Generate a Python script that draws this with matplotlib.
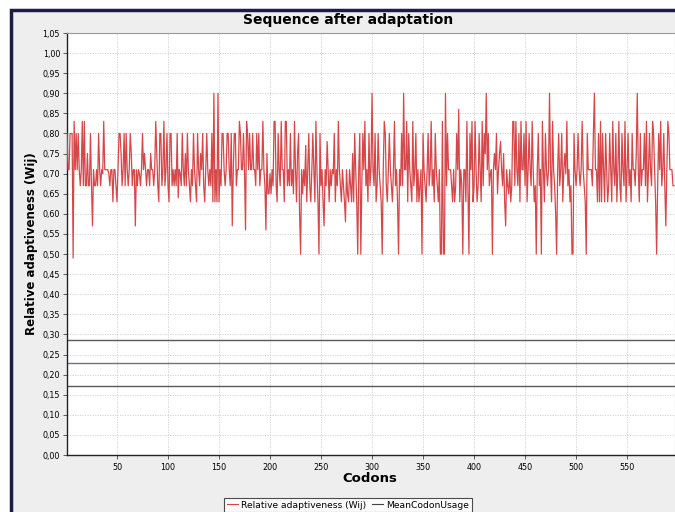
import numpy as np
import matplotlib
matplotlib.use("Agg")
import matplotlib.pyplot as plt
from matplotlib.patches import Rectangle
from matplotlib.lines import Line2D
from matplotlib.ticker import FuncFormatter, MultipleLocator

title = "Sequence after adaptation"
x_label = "Codons"
y_label = "Relative adaptiveness (Wij)"
series_names = ["Relative adaptiveness (Wij)", "MeanCodonUsage"]

wij = [
    0.80, 0.71, 0.71, 0.80, 0.80, 0.80, 0.49, 0.83, 0.71, 0.80, 0.71, 0.80, 0.71, 0.67, 0.71, 0.83, 0.67, 0.83, 0.67, 0.67,
    0.75, 0.67, 0.67, 0.80, 0.67, 0.57, 0.71, 0.67, 0.67, 0.71, 0.67, 0.80, 0.71, 0.67, 0.71, 0.70, 0.83, 0.71, 0.71, 0.71,
    0.71, 0.70, 0.67, 0.71, 0.71, 0.63, 0.71, 0.71, 0.67, 0.63, 0.71, 0.80, 0.80, 0.75, 0.67, 0.71, 0.80, 0.67, 0.80, 0.71,
    0.67, 0.71, 0.80, 0.75, 0.67, 0.71, 0.71, 0.57, 0.71, 0.67, 0.71, 0.70, 0.67, 0.71, 0.80, 0.71, 0.75, 0.71, 0.67, 0.71,
    0.71, 0.67, 0.75, 0.71, 0.71, 0.67, 0.71, 0.83, 0.75, 0.67, 0.63, 0.80, 0.80, 0.67, 0.71, 0.83, 0.67, 0.71, 0.80, 0.67,
    0.63, 0.80, 0.80, 0.67, 0.71, 0.67, 0.71, 0.67, 0.80, 0.64, 0.71, 0.70, 0.67, 0.80, 0.71, 0.67, 0.75, 0.67, 0.80, 0.71,
    0.67, 0.63, 0.71, 0.67, 0.80, 0.71, 0.67, 0.63, 0.80, 0.71, 0.67, 0.75, 0.71, 0.80, 0.67, 0.63, 0.71, 0.80, 0.71, 0.67,
    0.71, 0.67, 0.80, 0.63, 0.90, 0.63, 0.71, 0.63, 0.90, 0.63, 0.71, 0.67, 0.80, 0.80, 0.71, 0.67, 0.71, 0.80, 0.80, 0.71,
    0.67, 0.80, 0.57, 0.71, 0.80, 0.80, 0.67, 0.71, 0.71, 0.83, 0.80, 0.71, 0.71, 0.80, 0.71, 0.56, 0.83, 0.80, 0.71, 0.80,
    0.71, 0.71, 0.80, 0.71, 0.71, 0.67, 0.80, 0.71, 0.80, 0.67, 0.71, 0.71, 0.83, 0.71, 0.67, 0.56, 0.75, 0.65, 0.65, 0.70,
    0.65, 0.71, 0.67, 0.83, 0.83, 0.67, 0.63, 0.80, 0.71, 0.67, 0.83, 0.71, 0.71, 0.63, 0.83, 0.83, 0.67, 0.71, 0.67, 0.80,
    0.67, 0.71, 0.65, 0.83, 0.71, 0.63, 0.75, 0.80, 0.60, 0.50, 0.71, 0.65, 0.71, 0.67, 0.77, 0.63, 0.71, 0.80, 0.67, 0.63,
    0.71, 0.80, 0.71, 0.63, 0.83, 0.71, 0.63, 0.50, 0.80, 0.67, 0.71, 0.63, 0.57, 0.71, 0.67, 0.78, 0.71, 0.63, 0.71, 0.67,
    0.71, 0.70, 0.80, 0.63, 0.71, 0.67, 0.83, 0.71, 0.67, 0.63, 0.71, 0.67, 0.63, 0.58, 0.71, 0.65, 0.63, 0.71, 0.67, 0.63,
    0.75, 0.63, 0.80, 0.71, 0.63, 0.50, 0.71, 0.80, 0.50, 0.67, 0.80, 0.71, 0.83, 0.67, 0.71, 0.63, 0.80, 0.67, 0.71, 0.90,
    0.71, 0.67, 0.80, 0.63, 0.67, 0.80, 0.71, 0.67, 0.63, 0.50, 0.71, 0.83, 0.80, 0.67, 0.63, 0.71, 0.80, 0.71, 0.67, 0.63,
    0.71, 0.83, 0.67, 0.71, 0.63, 0.50, 0.71, 0.67, 0.80, 0.67, 0.90, 0.71, 0.71, 0.83, 0.63, 0.80, 0.71, 0.67, 0.63, 0.83,
    0.67, 0.71, 0.80, 0.63, 0.71, 0.63, 0.67, 0.71, 0.50, 0.80, 0.71, 0.67, 0.63, 0.71, 0.80, 0.67, 0.71, 0.83, 0.67, 0.71,
    0.63, 0.80, 0.71, 0.67, 0.63, 0.71, 0.50, 0.50, 0.83, 0.50, 0.50, 0.90, 0.67, 0.80, 0.71, 0.71, 0.71, 0.67, 0.63, 0.71,
    0.63, 0.67, 0.80, 0.71, 0.86, 0.63, 0.71, 0.67, 0.50, 0.71, 0.71, 0.63, 0.83, 0.67, 0.50, 0.80, 0.71, 0.83, 0.63, 0.67,
    0.83, 0.71, 0.63, 0.67, 0.80, 0.71, 0.63, 0.83, 0.67, 0.80, 0.75, 0.90, 0.71, 0.80, 0.67, 0.70, 0.71, 0.50, 0.71, 0.75,
    0.71, 0.80, 0.65, 0.71, 0.75, 0.78, 0.71, 0.67, 0.75, 0.63, 0.57, 0.71, 0.67, 0.65, 0.71, 0.63, 0.67, 0.83, 0.83, 0.67,
    0.83, 0.71, 0.67, 0.80, 0.63, 0.83, 0.71, 0.71, 0.80, 0.67, 0.83, 0.63, 0.71, 0.80, 0.71, 0.67, 0.83, 0.71, 0.63, 0.67,
    0.50, 0.71, 0.80, 0.67, 0.71, 0.50, 0.83, 0.71, 0.63, 0.80, 0.71, 0.67, 0.71, 0.90, 0.71, 0.63, 0.83, 0.71, 0.67, 0.60,
    0.50, 0.71, 0.80, 0.67, 0.71, 0.80, 0.63, 0.71, 0.75, 0.70, 0.83, 0.67, 0.71, 0.63, 0.67, 0.50, 0.50, 0.80, 0.71, 0.67,
    0.71, 0.80, 0.71, 0.67, 0.71, 0.83, 0.71, 0.67, 0.63, 0.50, 0.80, 0.71, 0.71, 0.71, 0.71, 0.67, 0.80, 0.90, 0.71, 0.71,
    0.63, 0.80, 0.63, 0.83, 0.63, 0.80, 0.71, 0.63, 0.80, 0.71, 0.63, 0.67, 0.80, 0.71, 0.63, 0.83, 0.71, 0.67, 0.80, 0.63,
    0.71, 0.83, 0.67, 0.63, 0.80, 0.71, 0.67, 0.83, 0.63, 0.71, 0.80, 0.67, 0.71, 0.63, 0.80, 0.71, 0.71, 0.67, 0.75, 0.90,
    0.71, 0.63, 0.80, 0.67, 0.71, 0.71, 0.80, 0.67, 0.83, 0.63, 0.71, 0.80, 0.71, 0.67, 0.83, 0.80, 0.71, 0.63, 0.50, 0.67,
    0.80, 0.71, 0.83, 0.67, 0.71, 0.80, 0.67, 0.57, 0.71, 0.83, 0.80, 0.71, 0.71, 0.71, 0.67, 0.67,
]
codons = np.arange(1, len(wij) + 1)

mean_usage_levels = [0.286, 0.230, 0.172]
mean_usage_colors = ["#5a5a5a", "#6e6e96", "#5a5a5a"]

x_ticks = [50, 100, 150, 200, 250, 300, 350, 400, 450, 500, 550]

W, H = 675, 512
fig = plt.figure(figsize=(W / 100, H / 100), dpi=100, facecolor="white")

# chart panel with dark frame (drawn behind everything)
fig.patches.append(Rectangle((11 / W, -0.5), 2.0, 1.5 - 10 / H,
                             transform=fig.transFigure, facecolor="#eeeeee",
                             edgecolor="#1c1c44", lw=2.5, zorder=-10))

left, right, top, bottom = 67, 675, 33, 455
ax = fig.add_axes([left / W, 1 - bottom / H, (right - left) / W, (bottom - top) / H])
ax.set_zorder(1)
ax.set_facecolor("white")

ax.plot(codons, wij, color="#d6474a", lw=0.9, zorder=3)
for lvl, col in zip(mean_usage_levels, mean_usage_colors):
    ax.axhline(lvl, color=col, lw=1.0, zorder=2)

ax.set_xlim(1, 597)
ax.set_ylim(0, 1.05)
ax.set_xticks(x_ticks)
ax.yaxis.set_major_locator(MultipleLocator(0.05))
ax.yaxis.set_major_formatter(FuncFormatter(lambda v, p: f"{v:.2f}".replace(".", ",")))
ax.grid(True, color="#cfcfcf", linestyle=(0, (1.5, 1.5)), lw=0.6, zorder=1)
ax.tick_params(axis="both", labelsize=5.8, length=3, width=0.6, color="#444444", pad=2)
ax.tick_params(axis="x", pad=2.5)

for s in ["top", "right"]:
    ax.spines[s].set_color("#999999")
    ax.spines[s].set_linewidth(0.8)
for s in ["left", "bottom"]:
    ax.spines[s].set_color("#222222")
    ax.spines[s].set_linewidth(1.0)

fig.text(348 / W, 1 - 20 / H, title, ha="center", va="center",
         fontsize=10, fontweight="bold")
fig.text(370 / W, 1 - 479 / H, x_label, ha="center", va="center",
         fontsize=9.5, fontweight="bold")
fig.text(32 / W, 1 - 244 / H, y_label, ha="center", va="center",
         rotation=90, fontsize=8.5, fontweight="bold")

handles = [Line2D([], [], color="#d6474a", lw=0.8),
           Line2D([], [], color="#444444", lw=0.8)]
leg = fig.legend(handles, series_names, loc="center", ncol=2,
                 bbox_to_anchor=(348 / W, 1 - 505 / H), fontsize=6.6,
                 frameon=True, fancybox=False, edgecolor="#222222",
                 handlelength=1.2, handletextpad=0.4, columnspacing=0.6,
                 borderpad=0.3, borderaxespad=0)
leg.get_frame().set_linewidth(0.8)
leg.get_frame().set_facecolor("white")

fig.savefig("out.png", dpi=100, facecolor=fig.get_facecolor())
